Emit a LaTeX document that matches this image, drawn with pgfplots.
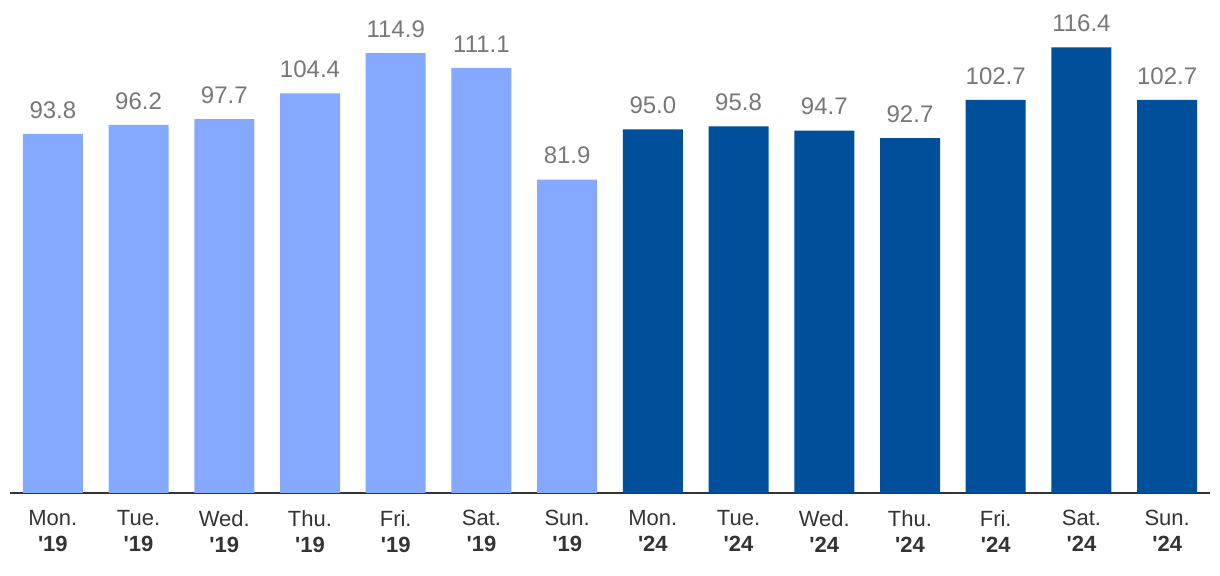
\documentclass[border=0pt]{standalone}
\usepackage{pgfplots}
\pgfplotsset{compat=1.18}
\usepackage{fontspec}
\setmainfont{Liberation Sans}
\definecolor{lightb}{HTML}{84A9FE}
\definecolor{darkb}{HTML}{004F9A}
\definecolor{lblgray}{HTML}{777777}
\definecolor{axgray}{HTML}{333333}
\begin{document}
\begin{tikzpicture}
\path[use as bounding box] (0,0) rectangle (1220bp,576bp);
\begin{axis}[
  at={(10bp,83bp)}, anchor=south west,
  scale only axis, width=1200bp, height=459.3bp,
  xmin=-0.5, xmax=13.5, ymin=0, ymax=120,
  axis y line=none, axis x line*=bottom,
  axis line style={draw=axgray, line width=2bp, -},
  ybar, bar width=60bp,
  xtick={0,...,13}, major tick length=0pt,
  xticklabels={
   {Mon.\\\textbf{\textquotesingle19}},{Tue.\\\textbf{\textquotesingle19}},{Wed.\\\textbf{\textquotesingle19}},{Thu.\\\textbf{\textquotesingle19}},{Fri.\\\textbf{\textquotesingle19}},{Sat.\\\textbf{\textquotesingle19}},{Sun.\\\textbf{\textquotesingle19}},
   {Mon.\\\textbf{\textquotesingle24}},{Tue.\\\textbf{\textquotesingle24}},{Wed.\\\textbf{\textquotesingle24}},{Thu.\\\textbf{\textquotesingle24}},{Fri.\\\textbf{\textquotesingle24}},{Sat.\\\textbf{\textquotesingle24}},{Sun.\\\textbf{\textquotesingle24}}},
  xticklabel style={align=center, font=\fontsize{22bp}{26bp}\selectfont, text=axgray, yshift=-14bp},
  nodes near coords,
  nodes near coords style={font=\fontsize{24bp}{26bp}\selectfont, text=lblgray, yshift=12bp,
    /pgf/number format/fixed, /pgf/number format/fixed zerofill, /pgf/number format/precision=1, /pgf/number format/assume math mode=true},
  clip=false,
]
\addplot[fill=lightb, draw=none, bar shift=0pt] coordinates {
 (0,93.8) (1,96.2) (2,97.7) (3,104.4) (4,114.9) (5,111.1) (6,81.9)};
\addplot[fill=darkb, draw=none, bar shift=0pt] coordinates {
 (7,95.0) (8,95.8) (9,94.7) (10,92.7) (11,102.7) (12,116.4) (13,102.7)};
\end{axis}
\end{tikzpicture}
\end{document}
